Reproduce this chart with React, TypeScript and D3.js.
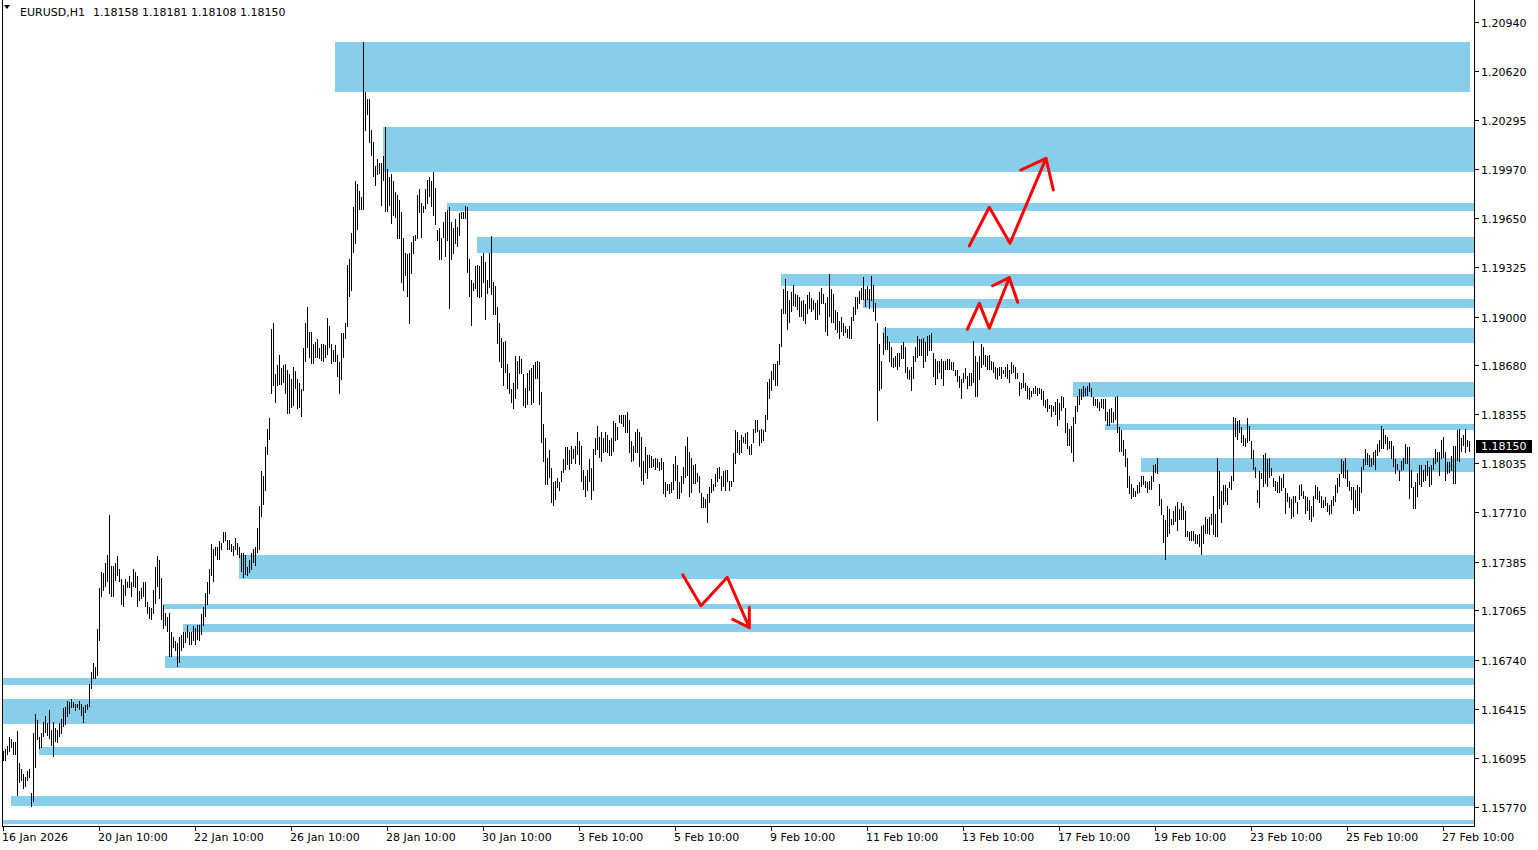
import React, { useEffect } from "react";
import * as d3 from "d3";

// ---- data (prices expressed as pips above PRICE_BASE) ----
const PRICE_BASE = 1.15;
const PIP = 0.0001;

const highPips = [
  114,115,117,123,122,120,120,127,106,102,
  99,97,101,102,86,126,138,134,123,126,
  133,137,132,141,128,133,129,128,132,135,
  142,143,147,146,148,146,145,145,147,145,
  143,144,145,158,166,172,169,194,221,232,
  231,238,243,269,236,236,238,242,234,227,
  223,227,225,229,225,234,232,229,219,221,
  225,225,212,209,208,220,235,242,240,228,
  210,205,202,205,192,189,186,185,189,190,
  192,192,197,192,192,196,195,197,197,204,
  209,218,225,234,250,247,248,248,252,251,
  258,258,253,253,250,249,254,251,248,244,
  244,243,235,240,244,247,248,261,275,298,
  295,314,326,333,392,396,362,368,375,366,
  368,369,365,362,359,367,364,359,356,352,
  379,396,406,390,390,382,383,385,379,382,
  382,381,399,394,382,378,381,375,370,389,
  389,396,434,438,455,472,489,487,483,479,
  581,548,543,543,523,515,499,504,501,501,
  506,525,497,492,494,489,482,480,477,469,
  452,442,441,442,449,453,454,480,484,475,
  473,484,490,492,489,495,485,457,458,452,
  462,469,470,472,462,458,464,459,468,469,
  469,473,472,438,424,422,433,434,433,440,
  442,436,424,442,453,423,420,406,396,386,
  383,384,369,363,352,356,374,371,374,372,
  362,353,363,365,366,368,370,371,370,350,
  329,320,307,312,300,291,292,294,291,298,
  306,314,314,312,315,313,315,324,318,315,
  299,295,299,306,300,313,320,328,321,324,
  320,324,322,319,320,331,330,327,335,335,
  335,335,337,332,318,315,324,326,324,321,
  305,314,309,309,308,306,307,306,304,307,
  304,291,290,290,291,303,308,302,291,295,
  301,315,321,311,307,302,303,297,295,284,
  281,280,283,288,293,290,296,300,301,295,
  298,299,299,292,292,310,325,324,319,322,
  321,323,324,315,316,326,332,332,325,326,
  325,335,357,359,364,369,369,371,382,405,
  418,425,417,411,416,421,415,414,413,410,
  411,408,414,416,412,411,409,411,416,419,
  415,409,413,428,418,415,404,403,397,400,
  396,394,392,394,400,406,413,413,417,419,
  426,418,420,418,427,421,409,396,382,371,
  389,393,387,383,380,373,374,376,376,381,
  383,380,367,365,367,374,380,387,385,385,
  386,383,387,388,389,376,372,371,371,372,
  371,371,372,372,370,370,365,365,361,359,
  363,366,361,363,363,384,374,370,374,382,
  380,375,374,375,371,370,367,366,367,367,
  365,367,369,365,370,368,367,363,357,356,
  363,356,354,353,351,353,354,353,353,352,
  351,345,346,342,342,341,344,346,343,348,
  347,340,330,326,328,334,341,348,352,352,
  354,353,354,356,353,347,346,346,344,346,
  346,346,337,339,340,337,347,348,327,325,
  319,313,307,295,290,287,285,289,291,295,
  295,292,291,292,295,302,303,307,290,280,
  269,266,275,273,267,272,275,278,273,277,
  275,272,259,258,259,259,257,256,257,262,
  263,268,267,268,270,282,270,307,298,285,
  289,289,287,291,295,334,333,331,332,327,
  322,320,333,328,318,312,301,286,298,297,
  309,310,306,307,300,294,292,291,295,294,
  296,287,284,281,280,282,282,278,289,290,
  285,282,281,279,275,282,289,288,285,282,
  279,281,277,276,279,282,289,294,296,306,
  305,307,299,292,288,288,286,289,288,301,
  306,313,310,309,307,311,312,316,319,328,
  326,322,321,318,318,315,306,303,299,305,
  307,316,314,314,299,288,291,297,302,302,
  299,302,305,301,302,307,313,311,311,319,
  321,311,304,304,308,315,315,325,326,320,
  322,326,319,318,
];

const lowPips = [
  107,107,111,113,116,111,111,84,93,94,
  89,90,94,96,77,80,103,121,115,116,
  123,126,124,122,117,110,120,119,123,125,
  130,131,136,138,142,142,140,142,141,137,
  132,139,141,143,155,161,161,163,186,215,
  219,222,225,217,215,215,226,229,225,210,
  209,216,221,221,215,222,221,209,213,214,
  215,209,204,201,200,204,211,222,214,200,
  194,196,192,176,176,182,180,169,172,180,
  182,185,188,184,184,186,184,187,186,190,
  196,202,210,217,229,225,242,240,240,246,
  251,252,246,246,245,242,246,243,241,232,
  228,230,229,231,233,238,236,244,246,268,
  276,285,309,319,349,354,343,354,355,355,
  356,349,336,336,340,341,352,339,340,334,
  351,370,379,373,369,369,373,373,372,371,
  370,373,375,379,369,370,370,360,349,358,
  373,385,393,413,417,442,448,457,470,470,
  470,522,533,514,506,492,486,493,494,473,
  489,469,469,473,461,466,465,451,451,422,
  417,427,413,395,428,441,450,451,468,452,
  468,471,474,479,472,466,460,450,437,437,
  452,439,450,405,437,441,448,446,453,464,
  464,464,429,413,394,417,418,413,412,413,
  422,398,415,419,414,401,401,382,370,366,
  354,363,352,349,343,339,346,352,362,362,
  341,340,342,351,342,343,359,359,342,317,
  304,289,289,294,277,275,279,287,285,291,
  297,299,302,299,303,306,303,309,302,291,
  286,281,285,291,279,285,309,312,307,304,
  310,311,310,308,308,311,318,319,330,329,
  327,323,323,310,304,305,310,310,301,292,
  289,297,293,300,300,301,299,300,298,299,
  283,281,285,283,284,286,292,280,280,284,
  290,294,295,281,284,290,290,291,284,274,
  274,274,264,277,284,285,288,291,293,285,
  288,285,291,285,288,291,303,310,309,310,
  317,316,313,309,309,317,323,324,315,317,
  318,324,332,346,351,358,354,354,368,380,
  402,402,391,396,403,407,406,404,400,400,
  397,395,402,405,403,404,398,398,401,408,
  408,390,387,400,396,396,391,389,385,390,
  387,389,386,385,385,397,401,405,408,411,
  411,406,411,405,410,403,397,331,351,352,
  375,378,378,370,367,366,367,365,367,372,
  372,363,359,358,351,359,370,373,374,374,
  366,370,374,377,377,360,355,359,363,359,
  354,365,365,365,365,364,361,357,353,346,
  356,359,352,354,354,356,347,347,358,366,
  368,367,365,365,365,363,359,358,361,359,
  362,360,359,356,362,363,359,359,348,352,
  353,351,346,345,347,349,349,348,349,345,
  341,340,337,339,334,337,335,328,332,338,
  340,323,315,315,310,304,329,337,342,345,
  347,348,348,350,347,341,341,340,338,340,
  339,331,328,328,330,330,332,323,311,311,
  308,301,287,283,280,281,281,283,284,288,
  289,287,284,286,286,291,297,296,275,269,
  251,240,255,257,263,263,265,259,266,266,
  266,255,255,252,252,252,250,250,248,243,
  250,257,257,256,263,256,255,255,273,264,
  276,278,276,287,286,292,321,319,323,317,
  315,314,317,318,306,299,294,277,274,293,
  288,290,288,294,295,288,285,284,284,285,
  287,270,278,274,267,268,277,270,279,282,
  280,270,272,266,265,268,280,279,277,274,
  274,275,271,269,270,275,278,284,288,296,
  294,293,288,285,279,270,274,272,272,284,
  299,302,302,301,301,302,299,308,311,313,
  313,316,312,313,306,301,296,299,292,298,
  299,303,303,280,287,273,273,281,289,288,
  291,292,295,288,289,299,303,304,295,306,
  307,292,296,297,298,290,290,305,304,311,
  315,310,314,311,
];

const priceTicks = [
  1.2094, 1.2062, 1.20295, 1.1997, 1.1965, 1.19325, 1.19, 1.1868, 1.18355,
  1.18035, 1.1771, 1.17385, 1.17065, 1.1674, 1.16415, 1.16095, 1.1577,
];

const timeLabels = [
  "16 Jan 2026", "20 Jan 10:00", "22 Jan 10:00", "26 Jan 10:00", "28 Jan 10:00",
  "30 Jan 10:00", "3 Feb 10:00", "5 Feb 10:00", "9 Feb 10:00", "11 Feb 10:00",
  "13 Feb 10:00", "17 Feb 10:00", "19 Feb 10:00", "23 Feb 10:00", "25 Feb 10:00",
  "27 Feb 10:00",
];
const BARS_PER_LABEL = 48;

// zones (rectangles): start bar, top price, bottom price, ends at last bar?
const zoneStartBar = [166, 190, 222, 237, 389, 430, 440, 535, 551, 569, 118, 80, 90, 81, 0, 0, 18, 4, 0];
const zoneTop = [1.20808, 1.20248, 1.19748, 1.19524, 1.1928, 1.19116, 1.18927, 1.18569, 1.18293, 1.18069, 1.1743, 1.17107, 1.16974, 1.16763, 1.16617, 1.16481, 1.16165, 1.15843, 1.15685];
const zoneBottom = [1.20479, 1.19951, 1.19697, 1.1942, 1.19201, 1.19059, 1.18829, 1.18469, 1.18253, 1.17977, 1.17272, 1.17074, 1.16923, 1.16684, 1.16573, 1.16317, 1.16113, 1.15777, 1.15658];
const zoneEndsAtLastBar = [true, false, false, false, false, false, false, false, false, false, false, false, false, false, false, false, false, false, false];

// hand-drawn red arrows: [bar index, price]
const arrowLines: [number, number][][] = [
  [[482.9, 1.19465], [492.9, 1.1972], [503.25, 1.19483], [521.25, 1.20042]],
  [[508.6, 1.19965], [521.25, 1.20042], [524.9, 1.19834]],
  [[481.9, 1.18916], [487.9, 1.19087], [492.9, 1.18923], [502.9, 1.19256]],
  [[494.6, 1.19203], [502.9, 1.19256], [507.1, 1.19094]],
  [[339.6, 1.173], [348.75, 1.17096], [361.9, 1.17283], [372.9, 1.16951]],
  [[364.6, 1.17006], [372.9, 1.16951], [372.9, 1.17085]],
];

const symbolName = "EURUSD,H1";
const lastOHLC = ["1.18158", "1.18181", "1.18108", "1.18150"];
const lastPrice = 1.1815;

// ---- layout ----
const W = 1538;
const H = 850;
const AXIS_X = 1474.5;
const AXIS_Y = 826.5;
const FONT = "'DejaVu Sans', Verdana, sans-serif";

export default function App() {
  useEffect(() => {
    document.body.style.margin = "0";
  }, []);

  const n = Math.min(highPips.length, lowPips.length);
  const x = d3.scaleLinear().domain([0, 733]).range([3.5, 1469.5]);
  const y = d3.scaleLinear().domain([1.1577, 1.2094]).range([807, 22]);
  const toPrice = (p: number) => PRICE_BASE + p * PIP;

  const barPath = d3.path();
  for (let i = 0; i < n; i++) {
    const xi = x(i);
    const yh = Math.round(y(toPrice(highPips[i])));
    const yl = Math.round(y(toPrice(lowPips[i])));
    barPath.moveTo(xi, yh);
    barPath.lineTo(xi, Math.max(yl, yh + 1));
  }

  const line = d3
    .line<[number, number]>()
    .x((d) => x(d[0]))
    .y((d) => y(d[1]));

  const lastX = x(n - 1) + 0.5;

  return (
    <svg
      width={W}
      height={H}
      style={{ position: "absolute", left: 0, top: 0, background: "#fff" }}
      fontFamily={FONT}
    >
      <rect x={0} y={0} width={W} height={H} fill="#fff" />
      {/* zones */}
      {zoneStartBar.map((s, k) => {
        const x0 = x(s) - 0.5;
        const x1 = zoneEndsAtLastBar[k] ? lastX : AXIS_X + 0.5;
        const y0 = Math.round(y(zoneTop[k]));
        const y1 = Math.round(y(zoneBottom[k]));
        return (
          <rect
            key={"z" + k}
            x={x0}
            y={y0}
            width={x1 - x0}
            height={Math.max(1, y1 - y0)}
            fill="#87CEEB"
            shapeRendering="crispEdges"
          />
        );
      })}
      {/* bars */}
      <path d={barPath.toString()} stroke="#000" strokeWidth={1} fill="none" shapeRendering="crispEdges" />
      {/* arrows */}
      {arrowLines.map((pts, k) => (
        <path
          key={"a" + k}
          d={line(pts) || ""}
          stroke="#FF0000"
          strokeWidth={3}
          fill="none"
          strokeLinejoin="round"
          strokeLinecap="round"
        />
      ))}
      {/* frame */}
      <line x1={2.5} x2={2.5} y1={0} y2={AXIS_Y} stroke="#000" shapeRendering="crispEdges" />
      <line x1={2} x2={AXIS_X + 0.5} y1={AXIS_Y} y2={AXIS_Y} stroke="#000" shapeRendering="crispEdges" />
      <line x1={AXIS_X} x2={AXIS_X} y1={0} y2={AXIS_Y + 0.5} stroke="#000" shapeRendering="crispEdges" />
      {/* price axis */}
      {priceTicks.map((p) => {
        const yy = Math.round(y(p)) + 0.5;
        return (
          <g key={"p" + p}>
            <line x1={AXIS_X} x2={AXIS_X + 4} y1={yy} y2={yy} stroke="#000" shapeRendering="crispEdges" />
            <text x={1481} y={yy + 4} fontSize={11} fill="#000">
              {p.toFixed(5)}
            </text>
          </g>
        );
      })}
      {/* last price box */}
      {(() => {
        const yy = Math.round(y(lastPrice));
        return (
          <g>
            <rect x={1476} y={yy - 6.5} width={56} height={13} fill="#000" shapeRendering="crispEdges" />
            <text x={1481} y={yy + 4} fontSize={11} fill="#fff">
              {lastPrice.toFixed(5)}
            </text>
          </g>
        );
      })()}
      {/* time axis */}
      {timeLabels.map((t, k) => {
        const xi = Math.round(x(k * BARS_PER_LABEL) - 0.5) + 0.5;
        return (
          <g key={"t" + k}>
            <line x1={xi} x2={xi} y1={AXIS_Y} y2={AXIS_Y + 4} stroke="#000" shapeRendering="crispEdges" />
            <text x={xi - 1.5} y={841} fontSize={11} fill="#000">
              {t}
            </text>
          </g>
        );
      })}
      {/* header */}
      <path d="M4,5 L10,5 L7,9 Z" fill="#000" />
      <text x={20} y={16} fontSize={11} fill="#000">
        {symbolName}
      </text>
      <text x={93} y={16} fontSize={11} fill="#000">
        {lastOHLC.join(" ")}
      </text>
    </svg>
  );
}
